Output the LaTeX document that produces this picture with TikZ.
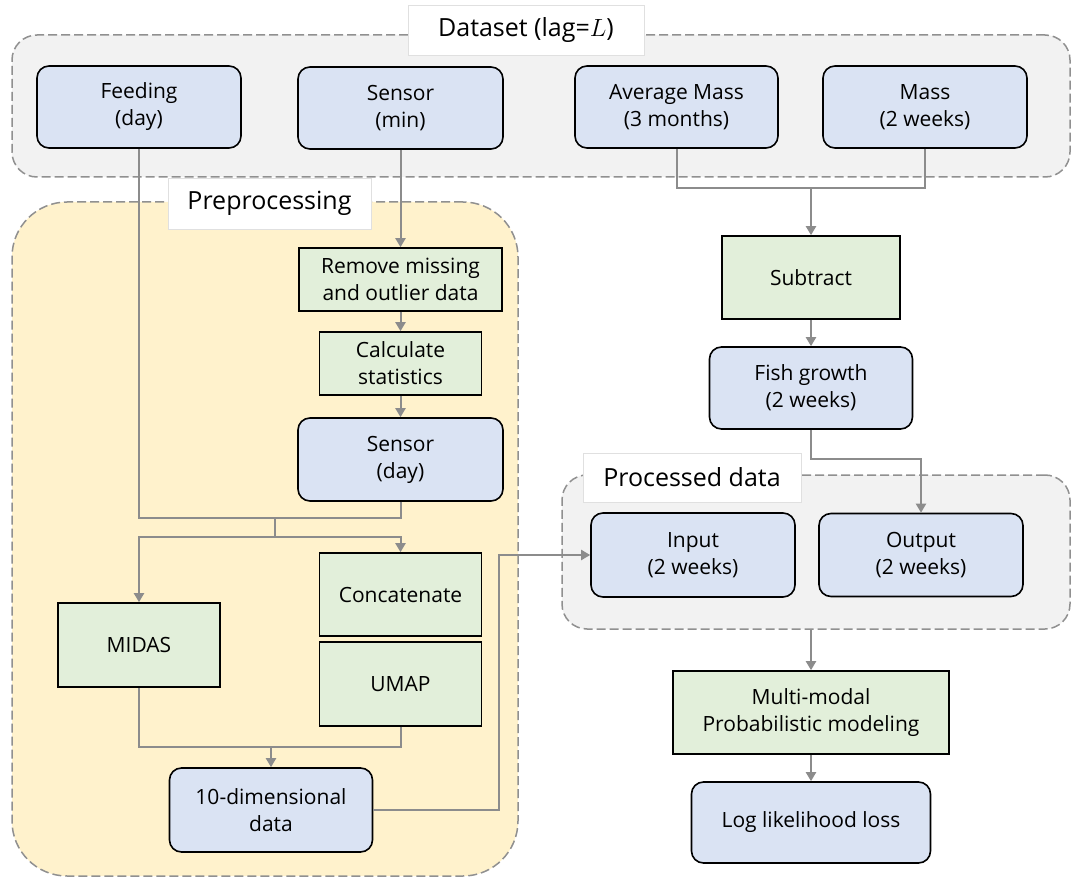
\documentclass[tikz,border=0pt]{standalone}
\usepackage{fontspec}
\setmainfont{Open Sans}
\usetikzlibrary{arrows.meta}
\definecolor{bluef}{HTML}{DAE3F3}
\definecolor{greenf}{HTML}{E2EFDA}
\definecolor{yellowf}{HTML}{FFF2CC}
\definecolor{grayf}{HTML}{F2F2F2}
\definecolor{dashc}{HTML}{909090}
\definecolor{linec}{HTML}{8C8C8C}
\tikzset{
  bluebox/.style={draw=black, line width=1.6pt, fill=bluef, rounded corners=12pt, align=center, inner sep=0pt},
  greenbox/.style={draw=black, line width=1.6pt, fill=greenf, align=center, inner sep=0pt},
  groupbox/.style={draw=dashc, dash pattern=on 9pt off 4pt, line width=1.5pt},
  grouplabel/.style={fill=white, draw=black!12, line width=0.8pt, inner sep=0pt, font=\fontsize{25}{30}\selectfont},
  conn/.style={draw=linec, line width=2pt},
  arr/.style={conn, -{Triangle[width=10pt,length=9pt]}}
}
\begin{document}
\begin{tikzpicture}[x=1pt,y=-1pt, font=\fontsize{21}{27}\selectfont]
\useasboundingbox[fill=white] (0,0) rectangle (1072,880);
% group backgrounds
\node[groupbox, fill=grayf, rounded corners=25pt, minimum width=1058pt, minimum height=142pt] (dataset) at (541,106) {};
\node[groupbox, fill=yellowf, rounded corners=55pt, minimum width=506pt, minimum height=674pt] (prep) at (265,539) {};
\node[groupbox, fill=grayf, rounded corners=25pt, minimum width=508pt, minimum height=154pt] (proc) at (816,552) {};
% group labels
\node[grouplabel, minimum width=236pt, minimum height=50pt] (datasetlbl) at (526,30) {Dataset (lag=$L$)};
\node[grouplabel, minimum width=203pt, minimum height=51pt] (preplbl) at (269.5,203.5) {Preprocessing};
\node[grouplabel, minimum width=218pt, minimum height=49pt] (proclbl) at (692,477.5) {Processed data};
% nodes
\node[bluebox, minimum width=204pt, minimum height=82pt] (feed) at (139,107) {Feeding\\(day)};
\node[bluebox, minimum width=205pt, minimum height=82pt] (smin) at (400.5,108) {Sensor\\(min)};
\node[bluebox, minimum width=203pt, minimum height=82pt] (avg) at (676.5,107) {Average Mass\\(3 months)};
\node[bluebox, minimum width=204pt, minimum height=82pt] (mass) at (925,107) {Mass\\(2 weeks)};
\node[greenbox, minimum width=203pt, minimum height=63pt] (remove) at (400.5,279.5) {Remove missing\\and outlier data};
\node[greenbox, minimum width=162pt, minimum height=63pt] (calc) at (400.5,363.5) {Calculate\\statistics};
\node[bluebox, minimum width=205pt, minimum height=83pt] (sday) at (400.5,459.5) {Sensor\\(day)};
\node[greenbox, minimum width=162pt, minimum height=84pt] (midas) at (139,645) {MIDAS};
\node[greenbox, minimum width=162pt, minimum height=83pt] (concat) at (400.5,594.5) {Concatenate};
\node[greenbox, minimum width=162pt, minimum height=84pt] (umap) at (400.5,684) {UMAP};
\node[bluebox, minimum width=203pt, minimum height=84pt] (ten) at (271,810) {10-dimensional\\data};
\node[greenbox, minimum width=178pt, minimum height=83pt] (sub) at (811,277.5) {Subtract};
\node[bluebox, minimum width=203pt, minimum height=82pt] (fish) at (811,388) {Fish growth\\(2 weeks)};
\node[bluebox, minimum width=204pt, minimum height=84pt] (input) at (693,555) {Input\\(2 weeks)};
\node[bluebox, minimum width=204pt, minimum height=83pt] (output) at (921,555) {Output\\(2 weeks)};
\node[greenbox, minimum width=276pt, minimum height=83pt] (multi) at (811,712.5) {Multi-modal\\Probabilistic modeling};
\node[bluebox, minimum width=239pt, minimum height=81pt] (loss) at (811,822.5) {Log likelihood loss};
% junction coordinates
\coordinate (j1) at (275,518);
\coordinate (j2) at (275,537);
\coordinate (j3) at (271,747);
\coordinate (j4) at (499,555);
\coordinate (j5) at (811,188);
\coordinate (j6) at (811,459);
% connectors
\draw[arr] (smin.south) -- (remove.north);
\draw[arr] (remove.south) -- (calc.north);
\draw[arr] (calc.south) -- (sday.north);
\draw[conn] (feed.south) |- (j1);
\draw[conn] (sday.south) |- (j1);
\draw[conn] (j1) -- (j2);
\draw[arr] (j2) -| (midas.north);
\draw[arr] (j2) -| (concat.north);
\draw[conn] (midas.south) |- (j3);
\draw[conn] (umap.south) |- (j3);
\draw[arr] (j3) -- (ten.north);
\draw[arr] (ten.east) -| (j4) -- (input.west);
\draw[conn] (avg.south) |- (j5);
\draw[conn] (mass.south) |- (j5);
\draw[arr] (j5) -- (sub.north);
\draw[arr] (sub.south) -- (fish.north);
\draw[arr] (fish.south) -- (j6) -| (output.north);
\draw[arr] (multi.north |- proc.south) -- (multi.north);
\draw[arr] (multi.south) -- (loss.north);
\end{tikzpicture}
\end{document}
